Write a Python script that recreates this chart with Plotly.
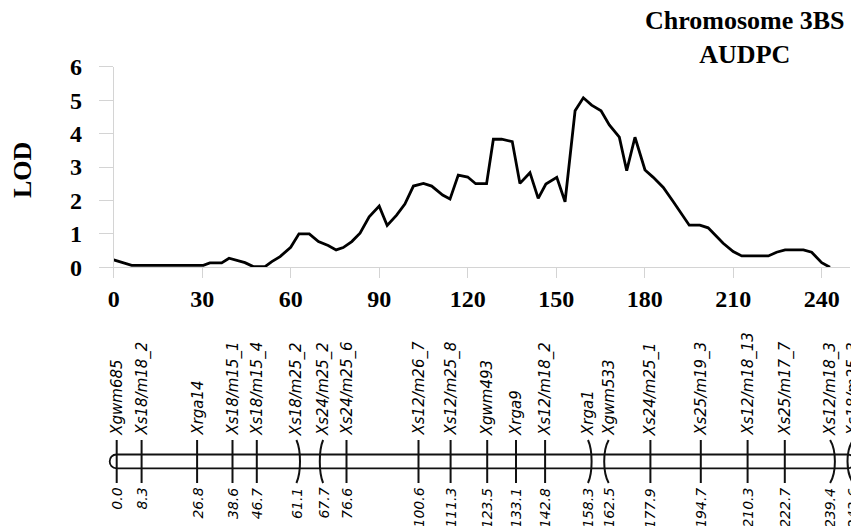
import plotly.graph_objects as go

# ---------------- data ----------------
# LOD profile along chromosome 3BS (cM, LOD)
lod_pos = [0, 6.1, 30.4, 32.6, 36.6, 39.1, 44.5, 47.3, 51.3, 53.6, 56.4, 60.0, 62.8, 66.3,
           69.4, 72.7, 75.4, 77.8, 80.7, 83.5, 86.6, 90.0, 92.7, 95.9, 98.7, 101.6, 105.0,
           107.8, 111.5, 114.0, 116.8, 120.0, 122.7, 126.4, 128.7, 131.5, 135.1, 137.7,
           141.1, 143.9, 146.5, 150.2, 153.0, 156.4, 159.2, 162.0, 165.2, 168.0, 171.4,
           173.9, 176.7, 180.1, 182.9, 186.3, 189.7, 192.5, 195.1, 198.7, 201.5, 206.6,
           210.0, 212.9, 221.9, 224.7, 227.6, 233.8, 236.6, 240.0, 242.8]
lod_val = [0.22, 0.06, 0.06, 0.13, 0.13, 0.27, 0.14, 0.02, 0.02, 0.17, 0.32, 0.60, 1.00, 1.00,
           0.77, 0.65, 0.52, 0.59, 0.77, 1.02, 1.51, 1.83, 1.25, 1.56, 1.89, 2.43, 2.51,
           2.43, 2.16, 2.04, 2.76, 2.70, 2.50, 2.50, 3.83, 3.83, 3.76, 2.51,
           2.83, 2.06, 2.49, 2.69, 1.96, 4.68, 5.07, 4.85, 4.68, 4.26, 3.89,
           2.89, 3.89, 2.91, 2.69, 2.39, 1.96, 1.58, 1.26, 1.26, 1.18, 0.72,
           0.47, 0.34, 0.34, 0.45, 0.52, 0.52, 0.45, 0.14, 0.0]

x_ticks = [0, 30, 60, 90, 120, 150, 180, 210, 240]
y_ticks = [0, 1, 2, 3, 4, 5, 6]

# genetic map markers
marker_names = ["Xgwm685", "Xs18/m18_2", "Xrga14", "Xs18/m15_1", "Xs18/m15_4",
                "Xs18/m25_2", "Xs24/m25_2", "Xs24/m25_6", "Xs12/m26_7", "Xs12/m25_8",
                "Xgwm493", "Xrga9", "Xs12/m18_2", "Xrga1", "Xgwm533", "Xs24/m25_1",
                "Xs25/m19_3", "Xs12/m18_13", "Xs25/m17_7", "Xs12/m18_3", "Xs18/m25_3"]
marker_pos = [0.0, 8.3, 26.8, 38.6, 46.7, 61.1, 67.7, 76.6, 100.6, 111.3, 123.5, 133.1,
              142.8, 158.3, 162.5, 177.9, 194.7, 210.3, 222.7, 239.4, 243.6]
marker_labels = ["0.0", "8.3", "26.8", "38.6", "46.7", "61.1", "67.7", "76.6", "100.6",
                 "111.3", "123.5", "133.1", "142.8", "158.3", "162.5", "177.9", "194.7",
                 "210.3", "222.7", "239.4", "243.6"]
# label displacement (cM) for crowded markers (drawn with bent connector)
marker_shift = [0, 0, 0, 0, 0, -1.2, 1.1, 0, 0, 0, 0, 0, 0, -1.2, 1.5, 0, 0, 0, 0, -1.6, 1.9]

# ---------------- style / layout constants ----------------
# the page body adds an 8px margin, so the figure is sized and placed to fit the window
VIEW_W, VIEW_H, BODY = 859, 526, 8
W, H = VIEW_W - BODY, VIEW_H - BODY


def fx(px):  # window pixel -> paper fraction (x)
    return (px - BODY) / W


def fy(py):  # window pixel -> paper fraction (y)
    return 1 - (py - BODY) / H


X0_PX, X_END_PX, PX_PER_CM_TOP = 113.7, 850.0, 2.95
Y0_PX, Y6_PX = 267.3, 66.7
MAP_X0_PX, PX_PER_CM_MAP = 116.7, 3.0
GREY = "#d4d4d4"
SERIF = "Liberation Serif"
SANS = "DejaVu Sans"

# bottom panel vertical layout (window pixel units on a hidden y axis)
TICK_TOP, CHR_TOP, CHR_BOT, TICK_BOT = 440.0, 454.5, 468.3, 483.0
CAP_R_CM = 7.0 / PX_PER_CM_MAP

fig = go.Figure()

# LOD curve
fig.add_trace(go.Scatter(x=lod_pos, y=lod_val, mode="lines",
                         line=dict(color="black", width=2.8),
                         xaxis="x", yaxis="y", showlegend=False, hoverinfo="skip"))

# chromosome outline
x_first, x_last = marker_pos[0], marker_pos[-1]
for yy in (CHR_TOP, CHR_BOT):
    fig.add_trace(go.Scatter(x=[x_first, x_last], y=[yy, yy], mode="lines",
                             line=dict(color="#111", width=1.8),
                             xaxis="x2", yaxis="y2", showlegend=False, hoverinfo="skip"))
k = 4.0 / 3.0 * CAP_R_CM
shapes = [
    dict(type="path", xref="x2", yref="y2",
         path=f"M {x_first},{CHR_TOP} C {x_first - k},{CHR_TOP} {x_first - k},{CHR_BOT} {x_first},{CHR_BOT}",
         line=dict(color="#111", width=1.8)),
    dict(type="path", xref="x2", yref="y2",
         path=f"M {x_last},{CHR_TOP} C {x_last + k},{CHR_TOP} {x_last + k},{CHR_BOT} {x_last},{CHR_BOT}",
         line=dict(color="#111", width=1.8)),
]

annotations = []
for name, pos, lab, d in zip(marker_names, marker_pos, marker_labels, marker_shift):
    if d == 0:
        fig.add_trace(go.Scatter(x=[pos, pos], y=[TICK_TOP, TICK_BOT], mode="lines",
                                 line=dict(color="#111", width=2),
                                 xaxis="x2", yaxis="y2", showlegend=False, hoverinfo="skip"))
    else:
        c = pos - d / 3.0
        shapes.append(dict(type="path", xref="x2", yref="y2",
                           path=f"M {pos + d},{TICK_TOP} C {c},{CHR_TOP - 4} {c},{CHR_BOT + 4} {pos + d},{TICK_BOT}",
                           line=dict(color="#111", width=2)))
    annotations.append(dict(x=pos + d, y=TICK_TOP - 2, xref="x2", yref="y2", text=name,
                            textangle=-90, showarrow=False, xanchor="center", yanchor="bottom",
                            font=dict(family=SANS, size=15, color="#000", style="italic")))
    annotations.append(dict(x=pos + d, y=TICK_BOT + 3, xref="x2", yref="y2", text=lab,
                            textangle=-90, showarrow=False, xanchor="center", yanchor="top",
                            font=dict(family=SANS, size=14, color="#000", style="italic")))

# title and y title
annotations.append(dict(x=fx(745), y=fy(38), xref="paper", yref="paper",
                        text="Chromosome 3BS<br>AUDPC", showarrow=False,
                        xanchor="center", yanchor="middle", align="center",
                        font=dict(family=SERIF, size=26, color="black", weight="bold")))
annotations.append(dict(x=fx(22), y=fy(170), xref="paper", yref="paper", text="LOD",
                        textangle=-90, showarrow=False, xanchor="center", yanchor="middle",
                        font=dict(family=SERIF, size=26, color="black", weight="bold")))

fig.update_layout(
    width=W, height=H, margin=dict(l=0, r=0, t=0, b=0, pad=0, autoexpand=False),
    paper_bgcolor="white", plot_bgcolor="rgba(0,0,0,0)",
    shapes=shapes, annotations=annotations, showlegend=False,
    xaxis=dict(domain=[fx(X0_PX), fx(X_END_PX)], range=[0, (X_END_PX - X0_PX) / PX_PER_CM_TOP],
               tickmode="array", tickvals=x_ticks, ticks="outside", ticklen=10, tickcolor=GREY,
               showline=True, linecolor=GREY, linewidth=1, showgrid=False, zeroline=False,
               tickfont=dict(family=SERIF, size=24, color="black", weight="bold"),
               anchor="y", automargin=False),
    yaxis=dict(domain=[fy(Y0_PX), fy(Y6_PX)], range=[0, 6],
               tickmode="array", tickvals=y_ticks, ticks="outside", ticklen=14, tickcolor=GREY,
               showline=True, linecolor=GREY, linewidth=1, showgrid=False, zeroline=False,
               tickfont=dict(family=SERIF, size=24, color="black", weight="bold"),
               ticklabelstandoff=12, anchor="x", automargin=False),
    xaxis2=dict(domain=[0, 1],
                range=[(BODY - MAP_X0_PX) / PX_PER_CM_MAP, (VIEW_W - MAP_X0_PX) / PX_PER_CM_MAP],
                visible=False, anchor="y2"),
    yaxis2=dict(domain=[0, 0.4], range=[VIEW_H, VIEW_H - 0.4 * H], visible=False, anchor="x2"),
)

fig.write_html("out.html")
